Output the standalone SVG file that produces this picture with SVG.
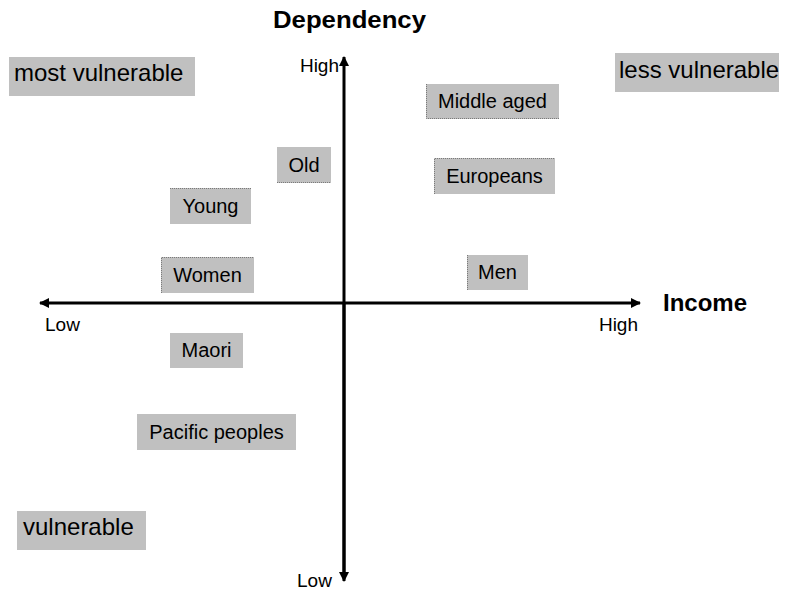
<svg xmlns="http://www.w3.org/2000/svg" width="789" height="591" viewBox="0 0 789 591">
<defs>
<style>
text{font-family:"Liberation Sans",Arial,sans-serif;fill:#000}
.box{fill:#c0c0c0}
.dot{stroke:#7a7a7a;stroke-width:1;stroke-dasharray:1 1;fill:none}
.lbl{font-size:20px;text-anchor:middle}
.big{font-size:24px}
.ax{font-size:19px}
.title{font-size:24px;font-weight:bold}
.axis{stroke:#000;stroke-width:3;fill:none}
</style>
<marker id="ah" viewBox="0 0 10 10" refX="9" refY="5" markerWidth="10" markerHeight="10" markerUnits="userSpaceOnUse" orient="auto-start-reverse">
<path d="M0,0 L10,5 L0,10 Z" fill="#000"/>
</marker>
</defs>
<rect width="789" height="591" fill="#fff"/>

<g id="connectors">
<line class="axis" x1="344" y1="578" x2="344" y2="57" marker-end="url(#ah)"/>
<line class="axis" x1="344" y1="303" x2="344" y2="581" marker-end="url(#ah)"/>
<line class="axis" x1="40" y1="303" x2="640" y2="303" marker-start="url(#ah)" marker-end="url(#ah)"/>
</g>

<g id="axis-labels">
<text class="title" x="273" y="28" textLength="153" lengthAdjust="spacingAndGlyphs">Dependency</text>
<text class="title" x="663" y="311">Income</text>
<text class="ax" x="339" y="72" text-anchor="end">High</text>
<text class="ax" x="45" y="331">Low</text>
<text class="ax" x="638" y="331" text-anchor="end">High</text>
<text class="ax" x="297" y="587">Low</text>
</g>

<g id="most-vulnerable">
<rect class="box" x="9" y="57" width="186" height="39"/>
<text class="big" x="14" y="81">most vulnerable</text>
</g>
<g id="less-vulnerable">
<rect class="box" x="615" y="53" width="164" height="39"/>
<text class="big" x="619" y="78">less vulnerable</text>
</g>
<g id="vulnerable">
<rect class="box" x="17" y="511" width="129" height="39"/>
<text class="big" x="23" y="535">vulnerable</text>
</g>

<g id="old">
<rect class="box" x="277" y="147" width="54" height="36"/>
<line class="dot" x1="277" y1="182.5" x2="331" y2="182.5"/>
<text class="lbl" x="304" y="172">Old</text>
</g>
<g id="young">
<rect class="box" x="170" y="188" width="81" height="36"/>
<line class="dot" x1="170" y1="188.5" x2="251" y2="188.5"/>
<text class="lbl" x="210.5" y="213">Young</text>
</g>
<g id="middle-aged">
<rect class="box" x="426" y="84" width="133" height="35"/>
<path class="dot" d="M426.5,84 V118.5 H559"/>
<text class="lbl" x="492.5" y="108">Middle aged</text>
</g>
<g id="europeans">
<rect class="box" x="434" y="158" width="121" height="36"/>
<path class="dot" d="M434.5,194 V158.5 H555"/>
<text class="lbl" x="494.5" y="183">Europeans</text>
</g>
<g id="women">
<rect class="box" x="161" y="257" width="93" height="36"/>
<path class="dot" d="M161.5,293 V257.5 H254"/>
<text class="lbl" x="207.5" y="282">Women</text>
</g>
<g id="men">
<rect class="box" x="467" y="255" width="61" height="35"/>
<line class="dot" x1="467.5" y1="255" x2="467.5" y2="290"/>
<text class="lbl" x="497.5" y="279">Men</text>
</g>
<g id="maori">
<rect class="box" x="170" y="333" width="73" height="35"/>
<text class="lbl" x="206.5" y="357">Maori</text>
</g>
<g id="pacific-peoples">
<rect class="box" x="137" y="414" width="159" height="36"/>
<text class="lbl" x="216.5" y="439">Pacific peoples</text>
</g>
</svg>
